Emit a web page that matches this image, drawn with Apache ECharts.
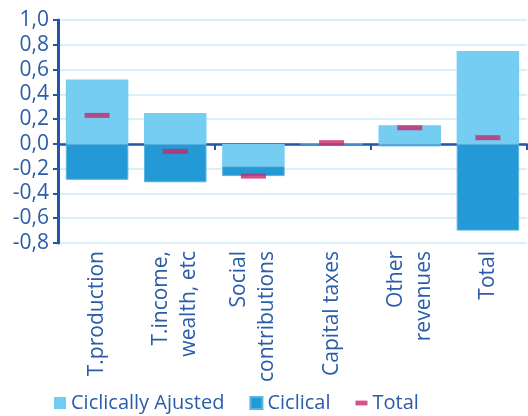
<!DOCTYPE html>
<html>
<head>
<meta charset="utf-8">
<script src="https://cdn.jsdelivr.net/npm/echarts@6/dist/echarts.min.js"></script>
<style>
  html, body { margin: 0; padding: 0; background: #fff; }
  #chart { width: 528px; height: 416px; }
</style>
</head>
<body>
<div id="chart"></div>
<script>
// chart data
const categories = ['T.production', 'T.income,\nwealth, etc', 'Social\ncontributions', 'Capital taxes', 'Other\nrevenues', 'Total']
const adjustedVals = [0.52, 0.25, -0.18, 0, 0.15, 0.75]
const ciclicalVals = [-0.29, -0.31, -0.08, 0, -0.02, -0.70]
const totalVals = [0.23, -0.06, -0.26, 0.01, 0.13, 0.05]

const axisBlue = '#2356A6'
const textBlue = '#2A5CA9'
const font = 'Open Sans'

const chart = echarts.init(document.getElementById('chart'))
chart.setOption({
  animation: false,
  textStyle: { fontFamily: font },
  grid: { left: 58, right: 1, top: 20, bottom: 173 },
  legend: {
    top: 388,
    left: 49,
    itemGap: 25,
    itemWidth: 12,
    itemHeight: 12,
    textStyle: { color: textBlue, fontSize: 20, fontFamily: font },
    data: [
      { name: 'Ciclically Ajusted', icon: 'rect' },
      { name: 'Ciclical', icon: 'rect' },
      { name: 'Total', icon: 'path://M0,0H10V4H0Z', itemStyle: { color: '#C9276A' } }
    ]
  },
  xAxis: [
    {
      type: 'category',
      data: categories,
      axisLine: { onZero: true, lineStyle: { color: axisBlue, width: 2.5 } },
      axisTick: { show: true, length: 6, lineStyle: { color: axisBlue, width: 2 } },
      axisLabel: { show: false }
    },
    {
      type: 'category',
      data: categories,
      position: 'bottom',
      axisLine: { show: false },
      axisTick: { show: false },
      axisLabel: {
        rotate: 90,
        interval: 0,
        margin: 8,
        color: textBlue,
        fontSize: 21,
        lineHeight: 28,
        fontFamily: font
      }
    }
  ],
  yAxis: {
    type: 'value',
    min: -0.8,
    max: 1.0,
    interval: 0.2,
    axisLine: { show: true, lineStyle: { color: axisBlue, width: 3 } },
    axisTick: { show: true, length: 5, lineStyle: { color: axisBlue, width: 2 } },
    axisLabel: {
      color: textBlue,
      fontSize: 21,
      margin: 9,
      fontFamily: font,
      formatter: v => v.toFixed(1).replace('.', ',')
    },
    splitLine: { lineStyle: { color: '#CFEAF7', width: 1.5 } }
  },
  series: [
    {
      name: 'Ciclically Ajusted',
      type: 'bar',
      stack: 'a',
      barWidth: '80%',
      data: adjustedVals,
      itemStyle: { color: '#75CDF2' }
    },
    {
      name: 'Ciclical',
      type: 'bar',
      stack: 'a',
      data: ciclicalVals,
      itemStyle: { color: '#2399D6', borderColor: '#5BB5E2', borderWidth: 1 }
    },
    {
      name: 'Total',
      type: 'scatter',
      data: totalVals,
      symbol: 'rect',
      symbolSize: [25, 5],
      itemStyle: { color: '#C9276A' },
      z: 5
    }
  ]
})
</script>
</body>
</html>
